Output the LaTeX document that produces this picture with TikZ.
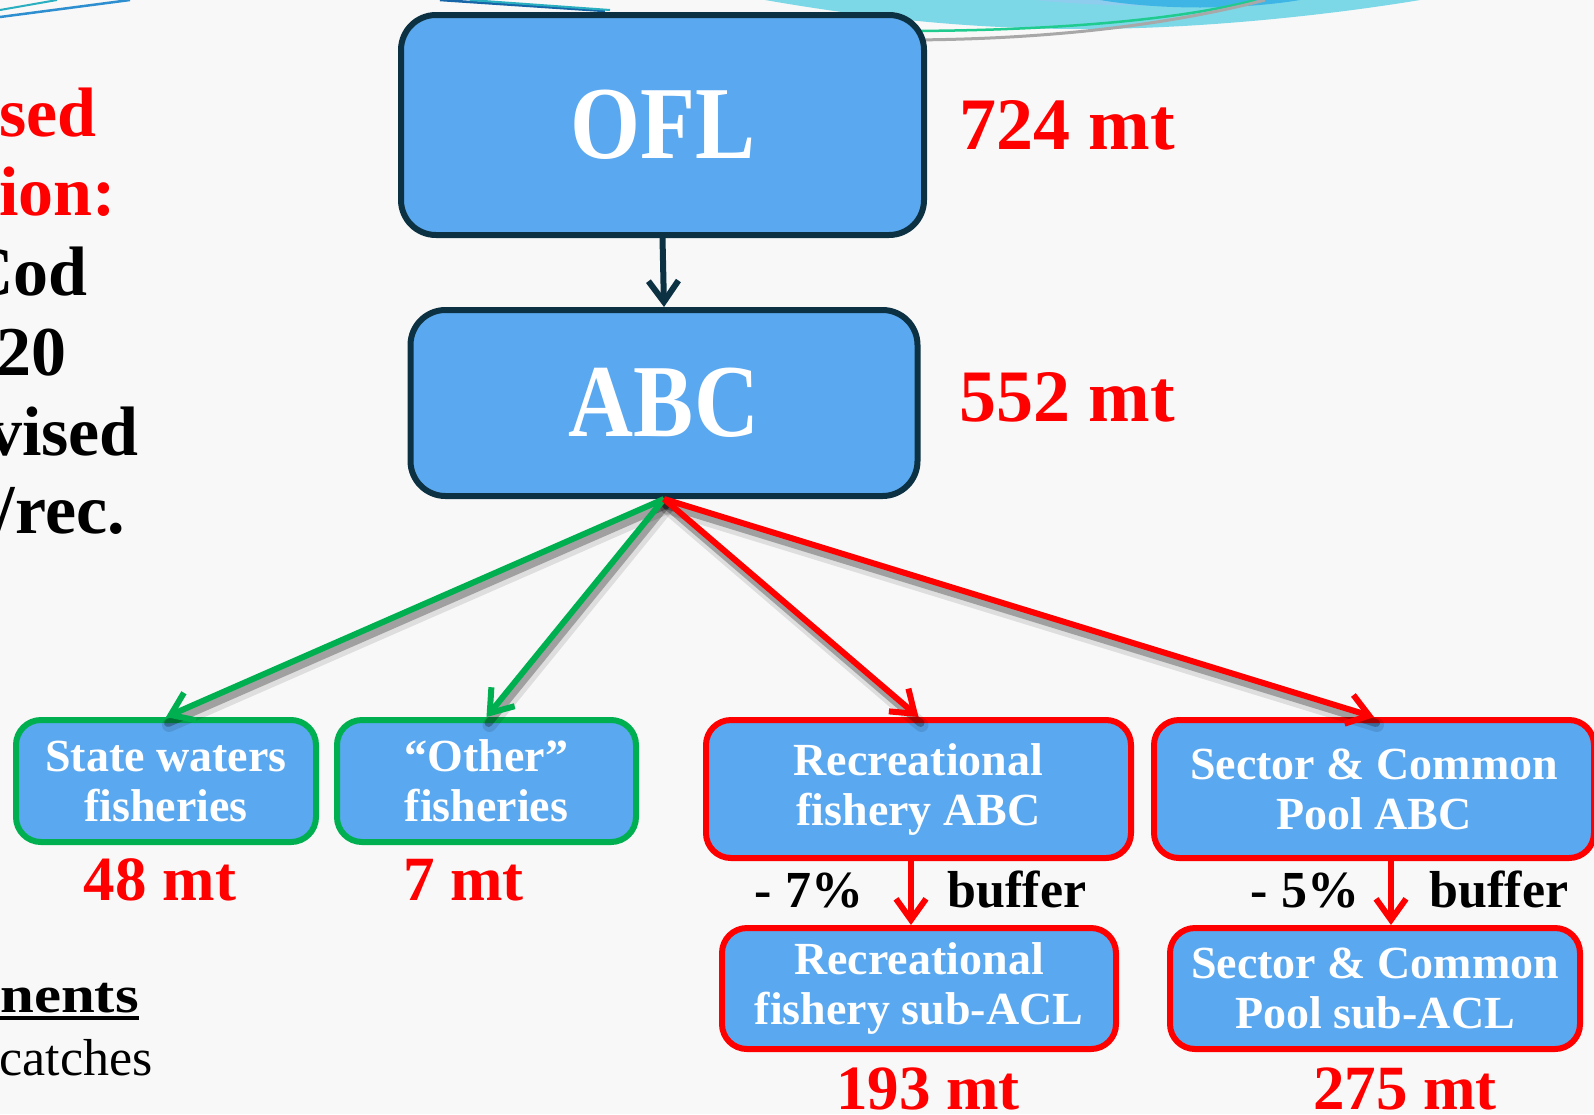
\documentclass[tikz,border=0pt]{standalone}
\usepackage{fontspec}
\setmainfont{Liberation Serif}
\usetikzlibrary{arrows.meta}
\definecolor{bgc}{HTML}{F8F8F8}
\definecolor{boxfill}{HTML}{5AA8EF}
\definecolor{navy}{HTML}{0C3142}
\definecolor{grn}{HTML}{00B050}
\definecolor{rd}{HTML}{FF0000}
\definecolor{cyanband}{HTML}{7CD8E6}
\definecolor{bluepatch}{HTML}{3EB5E5}
\definecolor{lightpatch}{HTML}{8ECDEE}
\definecolor{seagreen}{HTML}{1FCB8E}
\definecolor{lgray}{HTML}{A8A8A8}
\definecolor{lineblue}{HTML}{2E8FD0}
\definecolor{lineteal}{HTML}{2AAFC0}
\definecolor{darkblue}{HTML}{1565A8}
\begin{document}
\begin{tikzpicture}[x=1pt,y=-1pt,
  box/.style={draw, line width=6pt, fill=boxfill, rounded corners=25pt, text=white,
    font=\fontsize{46}{50}\selectfont\bfseries, align=center, inner sep=0pt},
  topbox/.style={box, draw=navy, rounded corners=35pt, font=\fontsize{90}{90}\selectfont\bfseries},
  gbox/.style={box, draw=grn},
  rbox/.style={box, draw=rd},
  num/.style={text=rd, font=\fontsize{74}{74}\selectfont\bfseries, anchor=base, inner sep=0pt},
  snum/.style={num, font=\fontsize{63}{63}\selectfont\bfseries},
  buf/.style={font=\fontsize{52}{52}\selectfont\bfseries, anchor=base, inner sep=0pt},
  side/.style={font=\fontsize{70}{70}\selectfont\bfseries, anchor=base east, inner sep=0pt},
  arr/.style={line width=6pt, -{Straight Barb[length=21pt,width=30pt]}},
  shadA/.style={line width=14pt, draw=black, opacity=0.10, line cap=round},
  shadB/.style={line width=8pt, draw=black, opacity=0.28, line cap=round},
]
\useasboundingbox (0,0) rectangle (1594,1114);
\clip (0,0) rectangle (1594,1114);
\fill[bgc] (0,0) rectangle (1594,1114);

% background swooshes
\fill[cyanband] (765,0) .. controls (880,20) and (980,29) .. (1083,29)
  .. controls (1200,29) and (1330,15) .. (1420,0) -- cycle;
\fill[lightpatch] (1035,0) .. controls (1100,7) and (1190,8) .. (1260,0) -- cycle;
\fill[bluepatch] (1100,0) .. controls (1160,10) and (1240,10) .. (1300,0) -- cycle;
\draw[seagreen, line width=2.5pt] (900,31) .. controls (1050,31) and (1180,20) .. (1255,0);
\draw[lgray, line width=3pt] (900,40) .. controls (1060,40) and (1180,22) .. (1265,0);
\draw[lineteal, line width=2pt] (0,10) -- (57,0);
\draw[lineblue, line width=2.5pt] (0,17) -- (130,0);
\draw[darkblue, line width=2.5pt] (440,0) -- (605,11);
\draw[lineteal, line width=2pt] (470,0) -- (610,10);

% main boxes
\node[topbox, minimum width=523pt, minimum height=220pt] (ofl) at (662.5,125) {\scalebox{1}[1.15]{OFL}};
\node[topbox, minimum width=507pt, minimum height=186pt] (abc) at (664,403) {\scalebox{1}[1.15]{ABC}};
\draw[arr, navy] (ofl.south) -- (abc.north);

\node[num] (n724) at (1067,149) {724 mt};
\node[num] (n552) at (1067,421) {552 mt};

% lower boxes
\node[gbox, minimum width=300pt, minimum height=122pt] (state) at (166,781) {State waters\\fisheries};
\node[gbox, minimum width=299pt, minimum height=122pt] (other) at (486.5,781) {“Other”\\fisheries};
\node[rbox, minimum width=425pt, minimum height=138pt] (recabc) at (918.5,789) {Recreational\\fishery ABC};
\node[rbox, minimum width=440pt, minimum height=138pt] (secabc) at (1374,789) {Sector \& Common\\Pool ABC};
\node[rbox, minimum width=394pt, minimum height=121pt] (recsub) at (919,988.5) {Recreational\\fishery sub-ACL};
\node[rbox, minimum width=410pt, minimum height=121pt] (secsub) at (1375,988.5) {Sector \& Common\\Pool sub-ACL};

% shadows of the diagonal connectors
\foreach \t in {state,other,recabc,secabc}{
  \draw[shadA] ([shift={(3,8)}]abc.south) -- ([shift={(3,8)}]\t.north);
  \draw[shadB] ([shift={(2,6)}]abc.south) -- ([shift={(2,6)}]\t.north);
}
\draw[arr, grn] (abc.south) -- (state.north);
\draw[arr, grn] (abc.south) -- (other.north);
\draw[arr, rd] (abc.south) -- (recabc.north);
\draw[arr, rd] (abc.south) -- (secabc.north);

% buffer arrows
\coordinate (rx) at (911,0);
\coordinate (sx) at (1391,0);
\draw[arr, rd] (recabc.south -| rx) -- (recsub.north -| rx);
\draw[arr, rd] (secabc.south -| sx) -- (secsub.north -| sx);

\node[buf] (p7) at (809,907) {- 7\%};
\node[buf] (bf1) at (1017,907) {buffer};
\node[buf] (p5) at (1305,907) {- 5\%};
\node[buf] (bf2) at (1499,907) {buffer};

\node[snum] (n48) at (160,900) {48 mt};
\node[snum] (n7) at (463.5,900) {7 mt};
\node[snum] (n193) at (928,1109) {193 mt};
\node[snum] (n275) at (1405,1109) {275 mt};

% left side text (cut off at frame edge)
\node[side, text=rd] (l1) at (97,136) {sed};
\node[side, text=rd] (l2) at (116,215) {ion:};
\node[side] (l3) at (88,295) {Cod};
\node[side] (l4) at (67,375) {20};
\node[side] (l5) at (139,455) {vised};
\node[side] (l6) at (125,533) {/rec.};

\node[font=\fontsize{52}{52}\selectfont\bfseries, anchor=base east, inner sep=0pt] (l7) at (139,1012) {\scalebox{1.17}[1]{nents}};
\draw[line width=3.5pt] (0,1018) -- (l7.base east |- 0,1018);
\node[font=\fontsize{52}{52}\selectfont, anchor=base east, inner sep=0pt] (l8) at (153,1075) {catches};
\end{tikzpicture}
\end{document}
